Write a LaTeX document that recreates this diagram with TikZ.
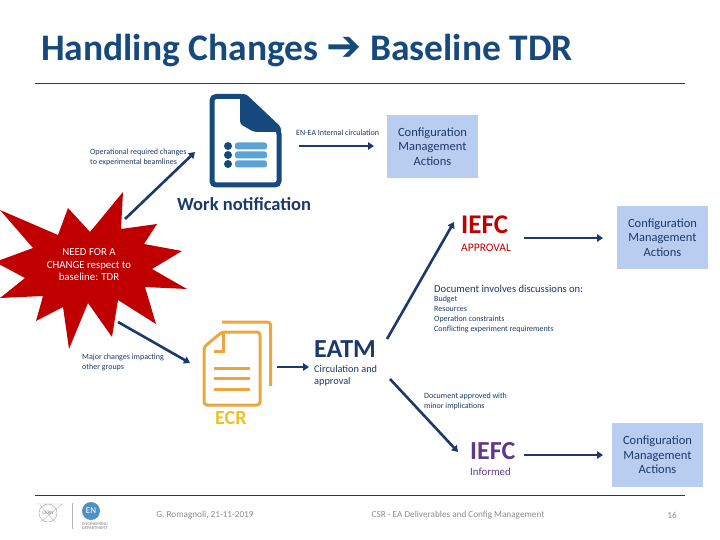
\documentclass[tikz,border=0pt]{standalone}
\usepackage{fontspec}
\setmainfont{Carlito}
\newfontfamily\arrowfont{DejaVu Sans}
\definecolor{navy}{HTML}{1B3A6B}
\definecolor{doc}{HTML}{174A7C}
\definecolor{lightb}{HTML}{5BA3D6}
\definecolor{boxb}{HTML}{B9CDF0}
\definecolor{starred}{HTML}{C00000}
\definecolor{orangeb}{HTML}{EBA63F}
\definecolor{ecr}{HTML}{F0C028}
\definecolor{purp}{HTML}{5F3A8A}
\usetikzlibrary{arrows.meta}
\tikzset{x=1pt,y=-1pt,
 conn/.style={draw=navy,line width=2.6pt,-{Triangle[length=6pt,width=7.5pt]}},
 cfg/.style={fill=boxb,text=navy,align=center,font=\fontsize{12.5}{14.5}\selectfont},
 lbl/.style={anchor=north west,align=left,inner sep=0pt,text=navy},
 tiny/.style={lbl,font=\fontsize{8}{10}\selectfont},
 foot/.style={inner sep=0pt,text=gray!90,font=\fontsize{9.2}{11}\selectfont}}
\begin{document}
\begin{tikzpicture}
\useasboundingbox (0,0) rectangle (720,540);
\fill[white] (0,0) rectangle (720,540);
\node[anchor=west,inner sep=0pt,text=doc,font=\bfseries\fontsize{37.5}{40}\selectfont] (title) at (41,51) {Handling Changes {\arrowfont\fontsize{42}{42}\selectfont\symbol{"2794}} Baseline TDR};
\coordinate (r1a) at (35,83); \coordinate (r1b) at (685,83);
\draw[navy,line width=.7pt] (r1a) -- (r1b);
\coordinate (r2a) at (35,495); \coordinate (r2b) at (685,495);
\draw[navy,line width=.7pt] (r2a) -- (r2b);

% work notification icon
\draw[doc,line width=5pt,fill=white,rounded corners=4pt] (212,96.5) -- (244,96.5) -- (279,130) -- (279,185) -- (212,185) -- cycle;
\fill[doc,rounded corners=3pt] (240,94) -- (246,94) -- (281,127) -- (281,132) -- (254,132) -- (240,124) -- cycle;
\foreach \y in {146,155,164}{
 \fill[doc] (228,\y) circle (4pt);
 \fill[lightb,rounded corners=2.5pt] (235,\y-3.5) rectangle (267,\y+3.5);
}
\node (wn) [anchor=west,inner sep=0pt,text=navy,font=\bfseries\fontsize{18.5}{20}\selectfont] at (177,204) {Work notification};

% star
\fill[starred] (123,192) -- (121,229) -- (157,224) -- (144,244) -- (182,251) -- (152,269) -- (187,289) -- (145,287) -- (156,324) -- (118,300) -- (112,337) -- (88,303) -- (69,349) -- (63,307) -- (36,321) -- (43,296) -- (0,298) -- (25,278) -- (-5,262) -- (33,248) -- (0,210) -- (58,235) -- (68,208) -- (90,232) -- cycle;
\node[text=white,align=center,font=\fontsize{10.8}{12.5}\selectfont] (need) at (89,265) {NEED FOR A\\CHANGE respect to\\baseline: TDR};

\node[tiny] (op) at (90,149) {Operational required changes\\to experimental beamlines};
\coordinate (toicon) at (195,152);
\coordinate (s1) at (125,219);
\draw[conn] (s1) -- (toicon);
\node[tiny] (int) at (296,130) {EN-EA Internal circulation};
\coordinate (a1) at (299,146); \coordinate (a2) at (374,146);
\draw[conn] (a1) -- (a2);
\node[cfg,minimum width=91pt,minimum height=63pt] (c1) at (432.5,146.5) {Configuration\\Management\\Actions};

% IEFC approval
\node[anchor=north west,inner sep=0pt,text=starred,font=\bfseries\fontsize{27}{28}\selectfont] (ie1) at (461,216) {IEFC};
\node[anchor=north west,inner sep=0pt,text=starred,font=\fontsize{11.5}{12}\selectfont] (ap) at (461,244) {APPROVAL};
\coordinate (b1) at (524,238); \coordinate (b2) at (603,238);
\draw[conn] (b1) -- (b2);
\node[cfg,minimum width=91pt,minimum height=63pt] (c2) at (662.5,237.5) {Configuration\\Management\\Actions};

\node[lbl,font=\fontsize{10.6}{12}\selectfont] (disc) at (434,285) {Document involves discussions on:};
\node[tiny] (list) at (434,296) {Budget\\Resources\\Operation constraints\\Conflicting experiment requirements};

% ECR
\node[tiny] (maj) at (82,354) {Major changes impacting\\other groups};
\coordinate (s2) at (118,322); \coordinate (e2) at (190,363);
\draw[conn] (s2) -- (e2);
\draw[orangeb,line width=3pt,line join=round,rounded corners=3pt] (222,322) -- (270.5,322) -- (270.5,386);
\draw[orangeb,line width=3pt,line join=round,rounded corners=3pt] (222,332) -- (260,332) -- (260,405) -- (204,405) -- (204,347) -- cycle;
\draw[orangeb,line width=3pt] (223,333) -- (223,351.5) -- (214,351.5);
\foreach \y in {368,378,389} \draw[orangeb,line width=3pt] (214,\y) -- (250,\y);
\node[anchor=north west,inner sep=0pt,text=ecr,font=\bfseries\fontsize{20}{20}\selectfont] (ecrl) at (215,411) {ECR};
\coordinate (x1) at (277,367);
\coordinate (x2) at (309,367);
\draw[conn] (x1) -- (x2);
\node[anchor=north west,inner sep=0pt,text=navy,font=\bfseries\fontsize{26}{28}\selectfont] (eatm) at (314,340) {EATM};
\node[lbl,font=\fontsize{10.3}{12.5}\selectfont] (circ) at (314,365) {Circulation and\\approval};

\coordinate (u0) at (387,339);
\coordinate (u1) at (454,222);
\draw[conn] (u0) -- (u1);
\coordinate (d0) at (390,379);
\coordinate (d1) at (458,452);
\draw[conn] (d0) -- (d1);
\node[tiny] (appr) at (424,393) {Document approved with\\minor implications};

\node[anchor=north west,inner sep=0pt,text=purp,font=\bfseries\fontsize{26}{28}\selectfont] (ie2) at (470,442) {IEFC};
\node[anchor=north west,inner sep=0pt,text=purp,font=\fontsize{10.8}{12}\selectfont] (inf) at (470,468) {Informed};
\coordinate (e1) at (524,455); \coordinate (e2b) at (603,455);
\draw[conn] (e1) -- (e2b);
\node[cfg,minimum width=91pt,minimum height=64pt] (c3) at (657.5,455) {Configuration\\Management\\Actions};

% footer
\draw[gray!60,line width=.5pt] (48,513) circle (9pt);
\draw[gray!60,line width=.4pt] (36,504) -- (63,504) (41,522) -- (62,504) (55,522) -- (40,505);
\node[inner sep=0pt,text=gray,font=\fontsize{5}{6}\selectfont] (cern) at (48,513) {CERN};
\draw[gray!60,line width=.5pt] (72.5,503) -- (72.5,529);
\fill[lightb!80!doc] (91,511) circle (9pt);
\node[inner sep=0pt,text=white,font=\fontsize{9}{10}\selectfont] (en) at (91,511) {EN};
\node[inner sep=0pt,anchor=north west,text=gray,align=left,font=\fontsize{4.5}{4.5}\selectfont] (dept) at (82,522) {ENGINEERING\\DEPARTMENT};
\node[foot] (f1) at (205,515) {G. Romagnoli, 21-11-2019};
\node[foot] (f2) at (458,515) {CSR - EA Deliverables and Config Management};
\node[foot] (f3) at (672,515) {16};
\end{tikzpicture}
\end{document}
